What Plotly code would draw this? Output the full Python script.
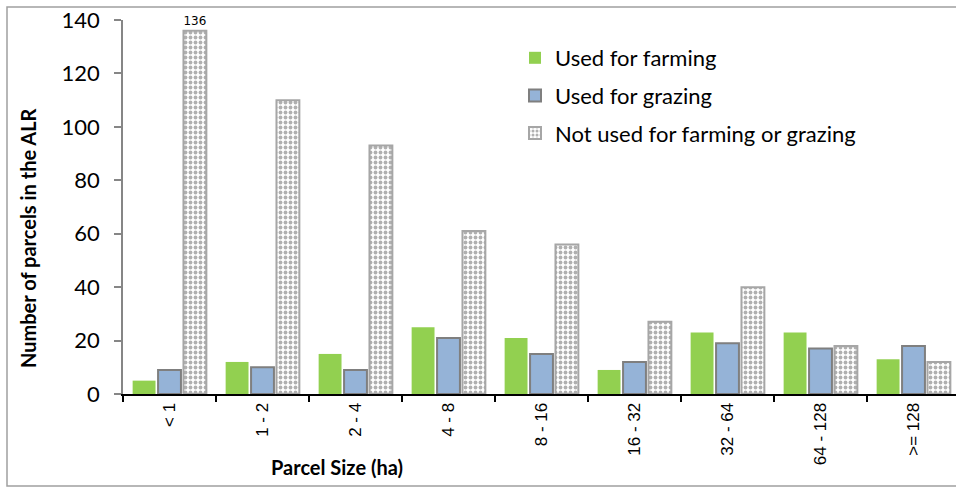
import plotly.graph_objects as go

# Parcel size classes (ha) and parcel counts per land-use group
size_classes = ["< 1", "1 - 2", "2 - 4", "4 - 8", "8 - 16", "16 - 32", "32 - 64", "64 - 128", ">= 128"]
farming = [5, 12, 15, 25, 21, 9, 23, 23, 13]
grazing = [9, 10, 9, 21, 15, 12, 19, 17, 18]
not_used = [136, 110, 93, 61, 56, 27, 40, 18, 12]
labelled_value = 136

W, H = 956, 487
ML, MR, MT, MB = 123, 0, 20, 93
PW, PH = W - ML - MR, H - MT - MB
CAT_PX = 93  # pixel width of one size class


def px_x(px):
    return (px - ML) / PW


def px_y(py):
    return 1 - (py - MT) / PH


fig = go.Figure()
fig.add_trace(go.Bar(
    name="Used for farming", x=size_classes, y=farming,
    marker=dict(color="#92d050", line=dict(width=0)),
    legendgroup="a",
))
fig.add_trace(go.Bar(
    name="Used for grazing", x=size_classes, y=grazing,
    marker=dict(color="#95b3d7", line=dict(color="#7f7f7f", width=2)),
    legendgroup="b",
))
fig.add_trace(go.Bar(
    name="Not used for farming or grazing", x=size_classes, y=not_used,
    marker=dict(
        color="#ffffff",
        line=dict(color="#a6a6a6", width=2),
        pattern=dict(shape=".", fgcolor="#b0b0b0", bgcolor="#ffffff",
                     size=5, solidity=0.45, fillmode="replace"),
    ),
    text=[str(v) if v == labelled_value else "" for v in not_used],
    textposition="outside",
    textfont=dict(family="DejaVu Sans", size=14, color="#000000"),
    cliponaxis=False,
    legendgroup="c",
))

fig.update_layout(
    width=W, height=H,
    margin=dict(l=ML, r=MR, t=MT, b=MB),
    paper_bgcolor="#ffffff", plot_bgcolor="#ffffff",
    barmode="group", bargap=0.18, bargroupgap=0.1,
    showlegend=True,
    legend=dict(
        x=px_x(515), y=px_y(37), xanchor="left", yanchor="top",
        font=dict(family="Lato", size=22, color="#000000"),
        traceorder="grouped", tracegroupgap=6,
        bgcolor="rgba(0,0,0,0)",
    ),
    font=dict(family="Lato", color="#000000"),
)

fig.update_xaxes(
    type="category",
    range=[-0.5, -0.5 + PW / CAT_PX],
    showline=True, linecolor="#000000", linewidth=2,
    ticks="outside", tickson="boundaries", ticklen=6, tickwidth=2, tickcolor="#000000",
    tickangle=-90,
    tickfont=dict(family="Liberation Sans", size=17, color="#000000"),
    showgrid=False, zeroline=False,
)
fig.update_yaxes(
    range=[0, 140], dtick=20,
    showline=True, linecolor="#868686", linewidth=1.5,
    ticks="outside", ticklen=7, tickwidth=1.5, tickcolor="#868686",
    ticklabelstandoff=10,
    tickfont=dict(family="Lato", size=22, color="#000000"),
    showgrid=False, zeroline=False,
)

# Axis titles
fig.add_annotation(
    text="<b>Parcel Size (ha)</b>", xref="paper", yref="paper",
    x=px_x(337), y=px_y(467), xanchor="center", yanchor="middle",
    showarrow=False, font=dict(family="Lato", size=20, color="#000000"),
)
fig.add_annotation(
    text="<b>Number of parcels in the ALR</b>", xref="paper", yref="paper",
    x=px_x(28), y=px_y(238), xanchor="center", yanchor="middle", textangle=-90,
    showarrow=False, font=dict(family="Lato", size=20, color="#000000"),
)

# Chart frame
fig.add_shape(
    type="rect", xref="paper", yref="paper",
    x0=px_x(7), x1=px_x(W + 20), y0=px_y(486), y1=px_y(7),
    line=dict(color="#a0a0a0", width=1.5), fillcolor="rgba(0,0,0,0)", layer="below",
)

fig.write_html("out.html")
